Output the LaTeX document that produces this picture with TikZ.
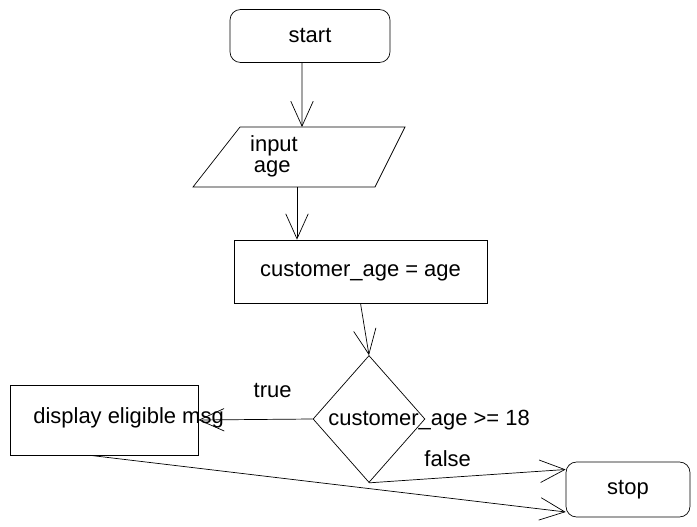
\documentclass[tikz,border=0pt]{standalone}
\usepackage{fontspec}
\setmainfont{Liberation Sans}
\usepackage{tikz}
\usetikzlibrary{shapes.geometric, positioning, arrows.meta}
\tikzset{
>={Straight Barb[length=5mm,width=4.5mm]}, % open arrow heads like the sketch
line width=0.9pt, % all lines a bit heavier
every node/.style={font=\fontsize{12.5}{15}\selectfont}, % text size of the sketch
terminal/.style={draw, rounded corners=6pt, minimum width=3.2cm, minimum height=1.06cm}, % start and stop
process/.style={draw, rectangle, minimum width=5.06cm, minimum height=1.26cm}, % plain box
decision/.style={draw, diamond, minimum width=2.24cm, minimum height=2.54cm, inner sep=0pt}, % test
}

\begin{document}
\begin{tikzpicture}[x=0.02cm, y=-0.02cm]
  \useasboundingbox (0,0) rectangle (697,527);

  \node[terminal] (start) at (310,36) {start};

  % input box, drawn by its corners
  \coordinate (intop) at (302,127);
  \coordinate (inbot) at (297,187);
  \draw (240,127) -- (405,127) -- (375,187) -- (193,187) -- cycle;
  \node[align=left, inner sep=0pt] (input) at (274,156) {input\\[-3pt]\,age};

  \node[process] (assign) at (360.5,271.5) {customer\_age = age};
  \node[decision] (check) at (369,419) {};
  \node[anchor=west, inner sep=0pt] (checktxt) at (328,420) {customer\_age >= 18};
  \node[draw, minimum width=3.76cm, minimum height=1.4cm] (display) at (104,420) {};
  \node[anchor=west, inner sep=0pt] (displaytxt) at (33,418) {display eligible msg};
  \node[terminal, minimum width=2.48cm, minimum height=1.1cm] (stop) at (628,489.5) {stop};

  \draw[->] ([xshift=-0.16cm]start.south) -- (intop);
  \draw[->] (inbot) -- (inbot |- assign.north);
  \draw[->] (assign.south) -- (check.north);
  \draw[->] (check.west) -- node[pos=0.35, above=0.3cm] {true} (display.east);
  \draw[->] (check.south) -- node[pos=0.4, above=0.1cm] {false} ([yshift=0.4cm]stop.west);
  \draw[->] ([xshift=-0.28cm]display.south) -- ([yshift=-0.45cm]stop.west);
\end{tikzpicture}
\end{document}
